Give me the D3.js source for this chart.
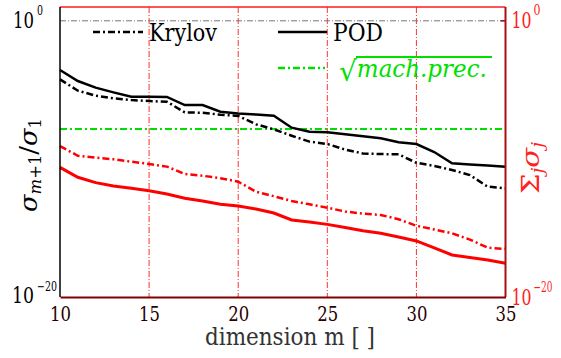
<!DOCTYPE html>
<html>
<head>
<meta charset="utf-8">
<script src="https://cdn.jsdelivr.net/npm/d3@7"></script>
<style>
  body { margin: 0; background: #fff; }
  svg { display: block; }
</style>
</head>
<body>
<div id="myPlot"></div>
<script>
// dimension m
const dims = d3.range(10, 36);
// log10 of the values
const podLog = [-3.56, -4.36, -4.84, -5.18, -5.50, -5.50, -5.51, -6.10, -6.10, -6.58,
  -6.71, -6.79, -6.87, -7.74, -8.03, -8.07, -8.22, -8.36, -8.51, -8.79,
  -8.92, -9.50, -10.32, -10.41, -10.48, -10.56];
const krylovLog = [-4.24, -5.06, -5.42, -5.61, -5.74, -5.81, -5.86, -6.63, -6.66, -6.80,
  -6.89, -7.49, -7.86, -8.32, -8.75, -8.92, -9.32, -9.61, -9.65, -9.67,
  -10.28, -10.51, -10.80, -11.17, -12.01, -12.13];
const podSumLog = [-10.61, -11.33, -11.72, -11.96, -12.13, -12.30, -12.54, -12.85, -13.05, -13.29,
  -13.41, -13.63, -13.92, -14.42, -14.57, -14.74, -14.97, -15.20, -15.39, -15.66,
  -15.94, -16.45, -16.96, -17.14, -17.32, -17.56];
const krylovSumLog = [-9.07, -9.77, -9.91, -10.03, -10.20, -10.37, -10.56, -11.09, -11.22, -11.40,
  -11.65, -12.38, -12.70, -13.05, -13.29, -13.53, -13.81, -13.96, -14.06, -14.37,
  -14.84, -15.11, -15.39, -15.84, -16.43, -16.52];
const machPrec = 1.49e-8;
const xTicks = [10, 15, 20, 25, 30, 35];
const xGrid = [15, 20, 25, 30];
const yTicks = [1e-20, 1];

const width = 561, height = 358;
const mLeft = 60, mRight = 505.5, mTop = 7, mBottom = 297;
const serif = 'DejaVu Serif';

const svg = d3.select('#myPlot').append('svg')
  .attr('width', width).attr('height', height)
  .attr('font-family', serif);

// text squeezed to a given width, so the wide serif looks like the TeX one
function label(g, str, px, py, size, len, color, anchor) {
  const t = g.append('text')
    .attr('x', px).attr('y', py)
    .attr('fill', color || '#000')
    .attr('text-anchor', anchor || 'start')
    .style('font-size', size + 'px')
    .text(str);
  if (len) t.attr('textLength', len).attr('lengthAdjust', 'spacingAndGlyphs');
  return t;
}

const x = d3.scaleLinear().domain([10, 35]).range([mLeft, mRight]);
const y = d3.scaleLog().domain([1e-20, 1e1]).range([mBottom, mTop]);

const dashDot = '7,3,2,3';

// grid
svg.append('g').selectAll('line')
  .data(xGrid).enter().append('line')
  .attr('x1', d => x(d)).attr('x2', d => x(d))
  .attr('y1', mTop).attr('y2', mBottom)
  .attr('stroke', '#ff3030').attr('stroke-width', 1)
  .attr('stroke-dasharray', '6,2,1,2');
svg.append('line')
  .attr('x1', mLeft).attr('x2', mRight)
  .attr('y1', y(1)).attr('y2', y(1))
  .attr('stroke', '#777').attr('stroke-width', 1)
  .attr('stroke-dasharray', '6,2,1,2');

// sqrt(machine precision)
svg.append('line')
  .attr('x1', mLeft).attr('x2', mRight)
  .attr('y1', y(machPrec)).attr('y2', y(machPrec))
  .attr('stroke', '#00e000').attr('stroke-width', 2)
  .attr('stroke-dasharray', dashDot);

const line = d3.line()
  .x((d, i) => x(dims[i]))
  .y(d => y(Math.pow(10, d)));

const series = [
  { data: podSumLog, color: '#ff0000', dash: null, w: 3 },
  { data: krylovSumLog, color: '#ff0000', dash: dashDot, w: 2.5 },
  { data: krylovLog, color: '#000', dash: dashDot, w: 2.5 },
  { data: podLog, color: '#000', dash: null, w: 2.5 }
];
svg.append('g').selectAll('path')
  .data(series).enter().append('path')
  .attr('d', d => line(d.data))
  .attr('fill', 'none')
  .attr('stroke', d => d.color)
  .attr('stroke-width', d => d.w)
  .attr('stroke-dasharray', d => d.dash);

// frame
svg.append('line').attr('x1', mLeft).attr('x2', mRight).attr('y1', mTop).attr('y2', mTop)
  .attr('stroke', '#ff1a1a').attr('stroke-width', 1.5);
svg.append('line').attr('x1', mRight).attr('x2', mRight).attr('y1', mTop).attr('y2', mBottom)
  .attr('stroke', '#a81010').attr('stroke-width', 2);
svg.append('line').attr('x1', mLeft).attr('x2', mLeft).attr('y1', mTop).attr('y2', mBottom)
  .attr('stroke', '#000').attr('stroke-width', 1.5);

// x axis
const xAxis = svg.append('g')
  .attr('transform', 'translate(0,' + mBottom + ')')
  .call(d3.axisBottom(x).tickValues(xTicks).tickSize(0).tickFormat(''));
xAxis.attr('font-family', serif).attr('font-size', null);
xAxis.select('.domain').attr('stroke', '#800000').attr('stroke-width', 2);
xAxis.selectAll('.tick').each(function(d) {
  label(d3.select(this), String(d), 0, 24, 21, 21, '#2a0000', 'middle');
});

// left y axis
const yLeft = svg.append('g')
  .attr('transform', 'translate(' + mLeft + ',0)')
  .call(d3.axisLeft(y).tickValues(yTicks).tickSize(0).tickFormat(''));
yLeft.attr('font-family', serif);
yLeft.select('.domain').remove();
yLeft.selectAll('.tick').each(function(d) {
  const g = d3.select(this);
  if (d === 1) {
    label(g, '10', -47, 7, 22, 21);
    label(g, '0', -23, -6, 13, 6);
  } else {
    label(g, '10', -48, 5, 22, 22);
    label(g, '\u221220', -23, -7, 13, 20);
  }
});

// right y axis
const yRight = svg.append('g')
  .attr('transform', 'translate(' + mRight + ',0)')
  .call(d3.axisRight(y).tickValues(yTicks).tickSize(0).tickFormat(''));
yRight.attr('font-family', serif);
yRight.select('.domain').remove();
yRight.selectAll('.tick').each(function(d) {
  const g = d3.select(this);
  label(g, '10', 6, 7, 23, 20, '#ff2020');
  if (d === 1) label(g, '0', 28, -6, 14, 7, '#ff2020');
  else label(g, '\u221220', 28, -6, 14, 19, '#ff2020');
});
// small tick on right axis at 10^0
svg.append('line').attr('x1', mRight - 5).attr('x2', mRight).attr('y1', y(1)).attr('y2', y(1))
  .attr('stroke', '#a81010').attr('stroke-width', 1.5);

// axis labels
label(svg, 'dimension m [ ]', 290, 345, 24, 170, '#333', 'middle');

const yl = svg.append('text')
  .attr('transform', 'translate(37,165) rotate(-90)')
  .attr('text-anchor', 'middle')
  .attr('fill', '#000')
  .attr('textLength', 94).attr('lengthAdjust', 'spacingAndGlyphs')
  .style('font-size', '25px');
yl.append('tspan').style('font-style', 'italic').text('\u03c3');
yl.append('tspan').attr('dy', 4).style('font-size', '16px').style('font-style', 'italic').text('m');
yl.append('tspan').style('font-size', '16px').text('+1');
yl.append('tspan').attr('dy', -4).text('/');
yl.append('tspan').style('font-style', 'italic').text('\u03c3');
yl.append('tspan').attr('dy', 4).style('font-size', '16px').text('1');

const yr = svg.append('text')
  .attr('transform', 'translate(539,168) rotate(-90)')
  .attr('text-anchor', 'middle')
  .attr('fill', '#ff2020')
  .attr('textLength', 52).attr('lengthAdjust', 'spacingAndGlyphs')
  .style('font-size', '25px');
yr.append('tspan').text('\u03a3');
yr.append('tspan').attr('dy', 4).style('font-size', '16px').style('font-style', 'italic').text('j');
yr.append('tspan').attr('dy', -4).style('font-style', 'italic').text('\u03c3');
yr.append('tspan').attr('dy', 4).style('font-size', '16px').style('font-style', 'italic').text('j');

// legend
const legend = [
  { label: 'Krylov', x1: 93, x2: 143, ly: 32, len: 68 },
  { label: 'POD', x1: 278, x2: 327, ly: 32, len: 50 }
];
legend.forEach(function(l) {
  svg.append('line')
    .attr('x1', l.x1).attr('x2', l.x2).attr('y1', l.ly).attr('y2', l.ly)
    .attr('stroke', '#000').attr('stroke-width', 2.5)
    .attr('stroke-dasharray', l.label === 'Krylov' ? dashDot : null);
  label(svg, l.label, l.x2 + 6, l.ly + 9, 25, l.len);
});
svg.append('line')
  .attr('x1', 278).attr('x2', 325).attr('y1', 68).attr('y2', 68)
  .attr('stroke', '#00e000').attr('stroke-width', 2.5)
  .attr('stroke-dasharray', dashDot);
const sq = svg.append('text')
  .attr('x', 339).attr('y', 77)
  .attr('fill', '#00e000')
  .style('font-size', '24px');
sq.append('tspan').style('font-size', '28px').attr('dy', 4).text('\u221a');
sq.append('tspan').attr('dy', -4).style('font-style', 'italic')
  .attr('textLength', 130).attr('lengthAdjust', 'spacingAndGlyphs')
  .text('mach.prec.');
svg.append('line')
  .attr('x1', 356).attr('x2', 492).attr('y1', 57).attr('y2', 57)
  .attr('stroke', '#00e000').attr('stroke-width', 1.8);
</script>
</body>
</html>
